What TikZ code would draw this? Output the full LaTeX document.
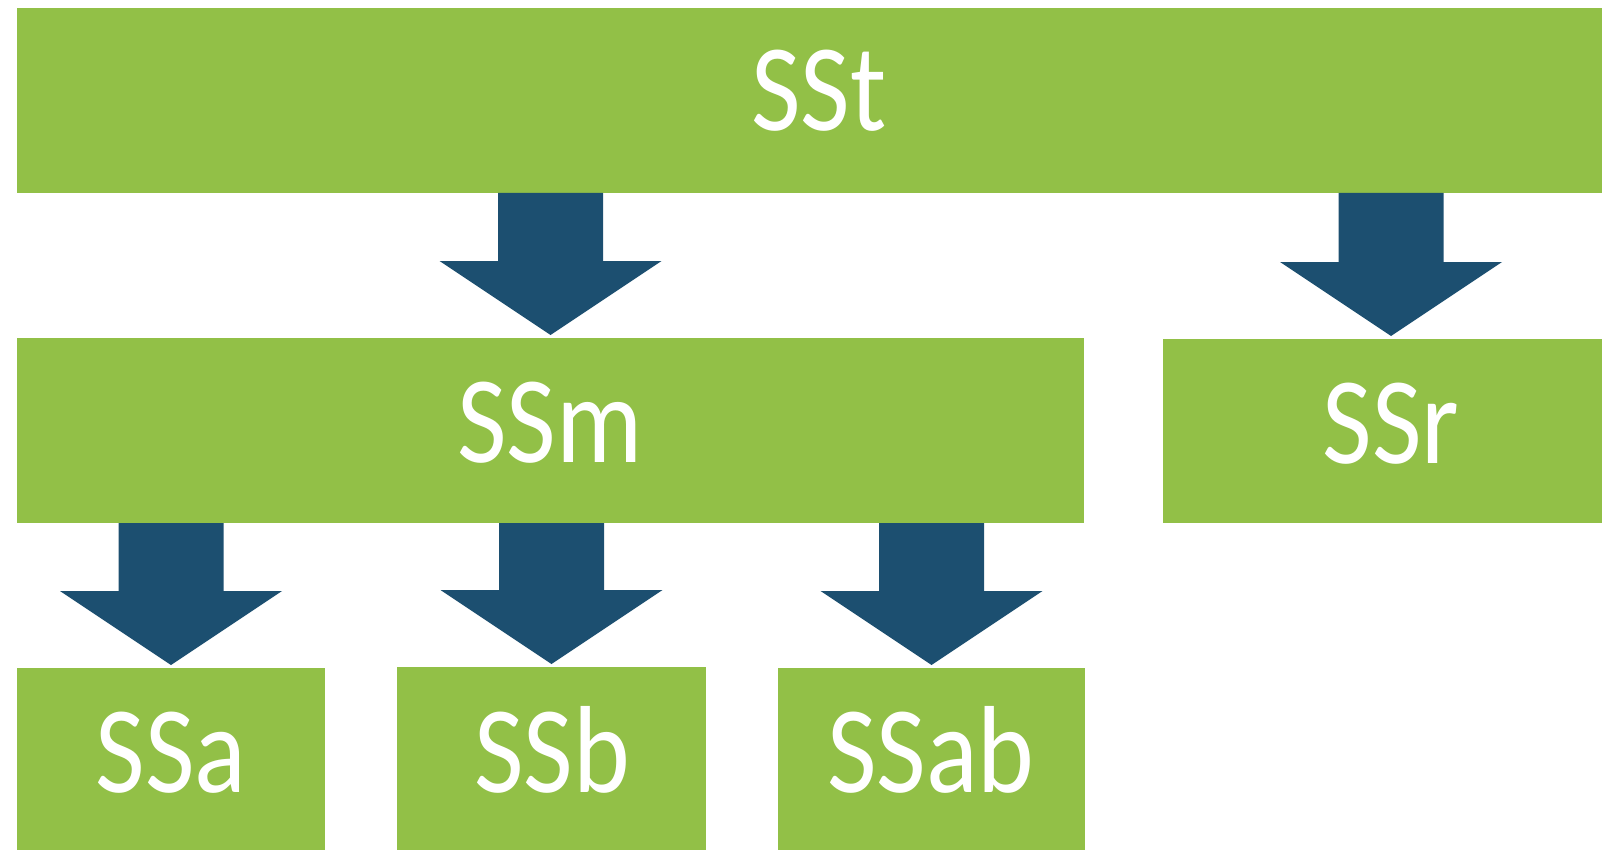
\documentclass[tikz,border=0pt]{standalone}
\usepackage{fontspec}
\setmainfont{Carlito}
\usetikzlibrary{calc}
\definecolor{boxgreen}{RGB}{146,192,71}
\definecolor{arrowblue}{RGB}{28,79,112}
\tikzset{
  box/.style={fill=boxgreen, draw=none, inner sep=0pt, outer sep=0pt},
  lbl/.style={text=white, anchor=base, inner sep=0pt, font=\fontsize{124}{124}\selectfont},
  arrowfill/.style={fill=arrowblue, draw=none}
}
\newcommand{\narrow}[1]{\scalebox{0.87}[1]{#1}}
\newcommand{\blockarrow}[3]{%
  \fill[arrowfill] let \p1=($(#2.north)+(#3,0)$), \p2=(#1.south) in
    (\x1-52.5pt,\y2) -- (\x1+52.5pt,\y2) -- (\x1+52.5pt,\y1+77pt)
    -- (\x1+111pt,\y1+77pt) -- (\x1,\y1+3pt) -- (\x1-111pt,\y1+77pt)
    -- (\x1-52.5pt,\y1+77pt) -- cycle;}
\begin{document}
\begin{tikzpicture}[x=1pt,y=-1pt]
\useasboundingbox (0,0) rectangle (1602,850);
% boxes
\node[box, minimum width=1585pt, minimum height=185pt] (SSt) at (809.5,100.5) {};
\node[box, minimum width=1067pt, minimum height=185pt] (SSm) at (550.5,430.5) {};
\node[box, minimum width=439pt, minimum height=184pt] (SSr) at (1382.5,431) {};
\node[box, minimum width=308pt, minimum height=190pt] (SSa) at (171,763) {};
\node[box, minimum width=309pt, minimum height=190pt] (SSb) at (551.5,762) {};
\node[box, minimum width=307pt, minimum height=190pt] (SSab) at (931.5,763) {};
% labels
\node[lbl] (tSSt) at (819,131) {\narrow{SSt}};
\node[lbl] (tSSm) at (550,462) {\narrow{SSm}};
\node[lbl] (tSSr) at (1391,463) {\narrow{SSr}};
\node[lbl] (tSSa) at (171,792) {\narrow{SSa}};
\node[lbl] (tSSb) at (552,792) {\narrow{SSb}};
\node[lbl] (tSSab) at (931,792) {\narrow{SSab}};
% arrows
\blockarrow{SSt}{SSm}{0pt}
\blockarrow{SSt}{SSr}{8.5pt}
\blockarrow{SSm}{SSa}{0pt}
\blockarrow{SSm}{SSb}{0pt}
\blockarrow{SSm}{SSab}{0pt}
\end{tikzpicture}
\end{document}
